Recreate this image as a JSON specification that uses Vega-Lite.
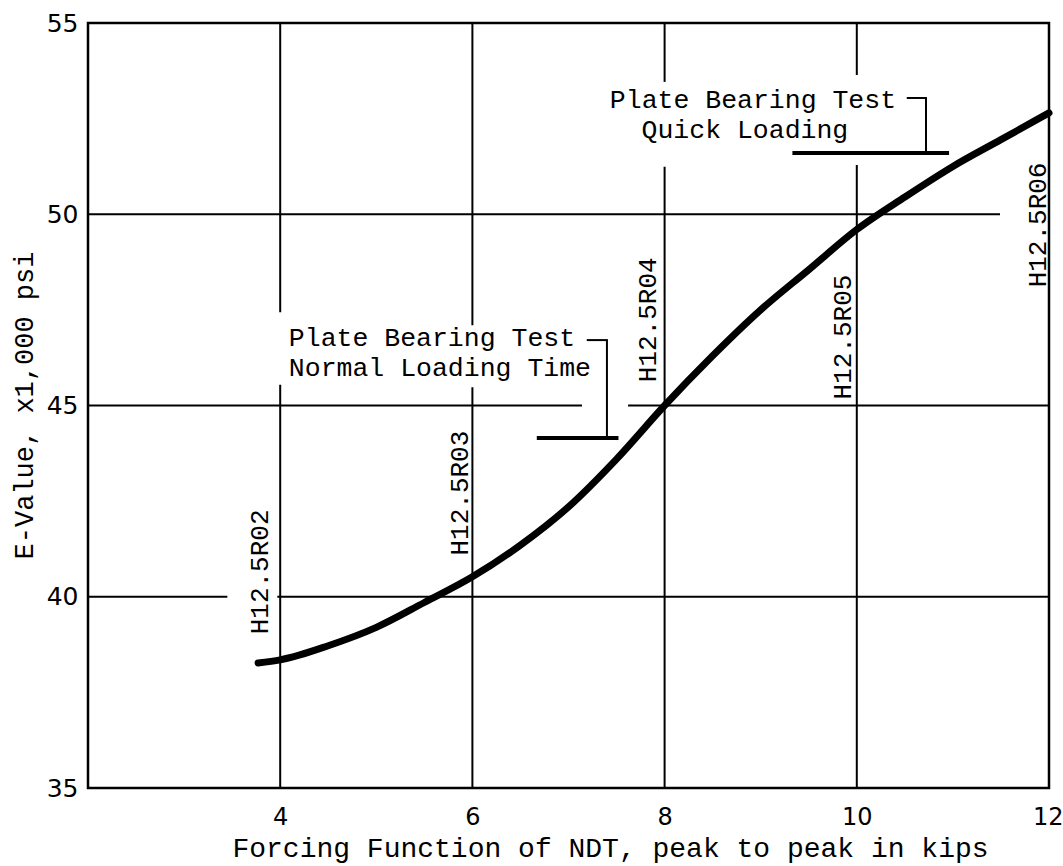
{
  "$schema": "https://vega.github.io/schema/vega-lite/v6.json",
  "autosize": "none",
  "width": 961,
  "height": 765,
  "padding": {"left": 88, "top": 23, "right": 14, "bottom": 78},
  "background": "white",
  "config": {
    "view": {"stroke": "black", "strokeWidth": 2.5}
  },
  "datasets": {
    "curve": [
      {"x": 3.77, "y": 38.27},
      {"x": 4.0, "y": 38.35},
      {"x": 4.5, "y": 38.72},
      {"x": 5.0, "y": 39.2},
      {"x": 5.5, "y": 39.85},
      {"x": 6.0, "y": 40.52},
      {"x": 6.5, "y": 41.35},
      {"x": 7.0, "y": 42.35},
      {"x": 7.5, "y": 43.6},
      {"x": 8.0, "y": 45.0},
      {"x": 8.5, "y": 46.3},
      {"x": 9.0, "y": 47.5},
      {"x": 9.5, "y": 48.55},
      {"x": 10.0, "y": 49.6},
      {"x": 10.5, "y": 50.45},
      {"x": 11.0, "y": 51.25},
      {"x": 11.5, "y": 51.95},
      {"x": 12.0, "y": 52.65}
    ],
    "segs": [
      {"kind": "grid", "x1": 4, "x2": 4, "y1": 55, "y2": 47.44},
      {"kind": "grid", "x1": 4, "x2": 4, "y1": 45.54, "y2": 35},
      {"kind": "grid", "x1": 6, "x2": 6, "y1": 55, "y2": 47.1},
      {"kind": "grid", "x1": 6, "x2": 6, "y1": 45.48, "y2": 35},
      {"kind": "grid", "x1": 8, "x2": 8, "y1": 55, "y2": 53.46},
      {"kind": "grid", "x1": 8, "x2": 8, "y1": 51.24, "y2": 35},
      {"kind": "grid", "x1": 10, "x2": 10, "y1": 55, "y2": 53.64},
      {"kind": "grid", "x1": 10, "x2": 10, "y1": 51.29, "y2": 35},
      {"kind": "grid", "x1": 2, "x2": 11.49, "y1": 50, "y2": 50},
      {"kind": "grid", "x1": 2, "x2": 7.14, "y1": 45, "y2": 45},
      {"kind": "grid", "x1": 7.62, "x2": 12, "y1": 45, "y2": 45},
      {"kind": "grid", "x1": 2, "x2": 3.45, "y1": 40, "y2": 40},
      {"kind": "grid", "x1": 3.97, "x2": 12, "y1": 40, "y2": 40},
      {"kind": "thin", "x1": 7.19, "x2": 7.41, "y1": 46.71, "y2": 46.71},
      {"kind": "thin", "x1": 7.4, "x2": 7.4, "y1": 46.71, "y2": 44.15},
      {"kind": "thick", "x1": 6.67, "x2": 7.52, "y1": 44.15, "y2": 44.15},
      {"kind": "thin", "x1": 10.52, "x2": 10.73, "y1": 53.04, "y2": 53.04},
      {"kind": "thin", "x1": 10.72, "x2": 10.72, "y1": 53.04, "y2": 51.6},
      {"kind": "thick", "x1": 9.33, "x2": 10.96, "y1": 51.6, "y2": 51.6}
    ],
    "tags": [
      {"label": "H12.5R02", "x": 3.79, "y": 40.65},
      {"label": "H12.5R03", "x": 5.87, "y": 42.71},
      {"label": "H12.5R04", "x": 7.83, "y": 47.24},
      {"label": "H12.5R05", "x": 9.86, "y": 46.79},
      {"label": "H12.5R06", "x": 11.89, "y": 49.72}
    ],
    "notes": [
      {"label": "Plate Bearing Test", "x": 4.09, "y": 46.76},
      {"label": "Normal Loading Time", "x": 4.09, "y": 45.98},
      {"label": "Plate Bearing Test", "x": 7.43, "y": 52.99},
      {"label": "Quick Loading", "x": 7.76, "y": 52.2}
    ]
  },
  "layer": [
    {
      "data": {"name": "segs"},
      "transform": [{"filter": "datum.kind === 'grid'"}],
      "mark": {"type": "rule", "color": "black", "strokeWidth": 2},
      "encoding": {
        "x": {
          "field": "x1", "type": "quantitative",
          "scale": {"domain": [2, 12], "nice": false, "zero": false},
          "axis": {
            "values": [4, 6, 8, 10, 12],
            "format": "d",
            "ticks": false, "domain": false, "grid": false,
            "labelFlush": true, "labelFlushOffset": 14, "labelOverlap": false,
            "labelFont": "DejaVu Sans", "labelFontSize": 24, "labelColor": "black",
            "labelPadding": 29, "labelBaseline": "middle",
            "title": "Forcing Function of NDT, peak to peak in kips",
            "titleFont": "Liberation Mono", "titleFontSize": 28, "titleFontWeight": "normal", "titleColor": "black",
            "titleX": 522, "titleY": 60, "titleAlign": "center", "titleBaseline": "middle"
          }
        },
        "x2": {"field": "x2"},
        "y": {
          "field": "y1", "type": "quantitative",
          "scale": {"domain": [35, 55], "nice": false, "zero": false},
          "axis": {
            "values": [35, 40, 45, 50, 55],
            "format": "d",
            "ticks": false, "domain": false, "grid": false,
            "labelFont": "DejaVu Sans", "labelFontSize": 25, "labelColor": "black",
            "labelPadding": 10,
            "title": "E-Value, x1,000 psi",
            "titleFont": "Liberation Mono", "titleFontSize": 27, "titleFontWeight": "normal", "titleColor": "black",
            "titleX": -64, "titleY": 382, "titleAngle": 270, "titleAlign": "center", "titleBaseline": "middle"
          }
        },
        "y2": {"field": "y2"}
      }
    },
    {
      "data": {"name": "segs"},
      "transform": [{"filter": "datum.kind === 'thin'"}],
      "mark": {"type": "rule", "color": "black", "strokeWidth": 2},
      "encoding": {
        "x": {"field": "x1", "type": "quantitative"},
        "x2": {"field": "x2"},
        "y": {"field": "y1", "type": "quantitative"},
        "y2": {"field": "y2"}
      }
    },
    {
      "data": {"name": "segs"},
      "transform": [{"filter": "datum.kind === 'thick'"}],
      "mark": {"type": "rule", "color": "black", "strokeWidth": 4},
      "encoding": {
        "x": {"field": "x1", "type": "quantitative"},
        "x2": {"field": "x2"},
        "y": {"field": "y1", "type": "quantitative"},
        "y2": {"field": "y2"}
      }
    },
    {
      "data": {"name": "curve"},
      "mark": {"type": "line", "color": "black", "strokeWidth": 7, "strokeCap": "round", "interpolate": "monotone"},
      "encoding": {
        "x": {"field": "x", "type": "quantitative"},
        "y": {"field": "y", "type": "quantitative"}
      }
    },
    {
      "data": {"name": "tags"},
      "mark": {"type": "text", "angle": 270, "align": "center", "baseline": "middle", "font": "Liberation Mono", "fontSize": 26, "color": "black"},
      "encoding": {
        "x": {"field": "x", "type": "quantitative"},
        "y": {"field": "y", "type": "quantitative"},
        "text": {"field": "label"}
      }
    },
    {
      "data": {"name": "notes"},
      "mark": {"type": "text", "align": "left", "baseline": "middle", "font": "Liberation Mono", "fontSize": 26.5, "color": "black"},
      "encoding": {
        "x": {"field": "x", "type": "quantitative"},
        "y": {"field": "y", "type": "quantitative"},
        "text": {"field": "label"}
      }
    }
  ]
}
